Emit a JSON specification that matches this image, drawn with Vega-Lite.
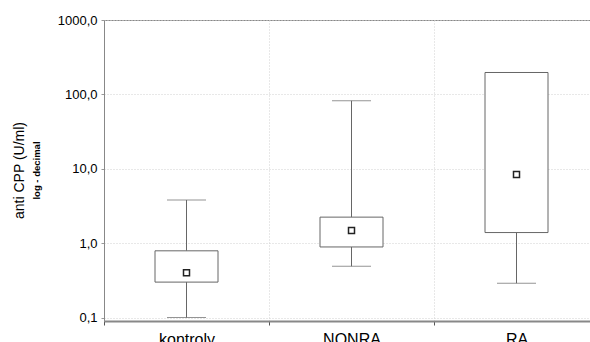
{
  "$schema": "https://vega.github.io/schema/vega-lite/v6.json",
  "autosize": "none",
  "padding": {"left": 104, "top": 20, "right": 0, "bottom": 21},
  "width": 495,
  "height": 301,
  "background": "white",
  "config": {
    "font": "Liberation Sans",
    "view": {"stroke": "#888888", "strokeWidth": 1}
  },
  "title": {
    "text": "anti CPP (U/ml)",
    "subtitle": "log - decimal",
    "orient": "left",
    "anchor": "middle",
    "font": "Liberation Sans",
    "fontSize": 14,
    "fontWeight": "normal",
    "color": "#000000",
    "subtitleFont": "Liberation Sans",
    "subtitleFontSize": 9.5,
    "subtitleFontWeight": "bold",
    "subtitleColor": "#000000",
    "subtitlePadding": 5,
    "offset": 16
  },
  "data": {
    "values": [
      {"group": "kontroly", "min": 0.1, "q1": 0.3, "median": 0.4, "q3": 0.79, "max": 3.8},
      {"group": "NONRA", "min": 0.49, "q1": 0.89, "median": 1.48, "q3": 2.24, "max": 82},
      {"group": "RA", "min": 0.29, "q1": 1.39, "median": 8.4, "q3": 197, "max": 197}
    ]
  },
  "encoding": {
    "x": {
      "field": "group",
      "type": "nominal",
      "sort": ["kontroly", "NONRA", "RA"],
      "scale": {"paddingInner": 0, "paddingOuter": 0},
      "axis": {
        "title": null,
        "labelAngle": 0,
        "labelFontSize": 16,
        "labelColor": "#000000",
        "labelPadding": 6,
        "tickBand": "extent",
        "tickSize": 4,
        "tickColor": "#555555",
        "domainColor": "#888888",
        "domainWidth": 2,
        "grid": true,
        "gridColor": "#d0d0d0",
        "gridDash": [1, 2]
      }
    }
  },
  "layer": [
    {
      "mark": {"type": "rule", "color": "#666666", "strokeWidth": 1},
      "encoding": {
        "y": {
          "field": "min",
          "type": "quantitative",
          "scale": {"type": "log", "domain": [0.09, 1000], "nice": false, "zero": false},
          "axis": {
            "title": null,
            "values": [0.1, 1, 10, 100, 1000],
            "labelExpr": "replace(format(datum.value, '.1f'), '.', ',')",
            "labelFontSize": 13,
            "labelColor": "#000000",
            "labelPadding": 4,
            "tickSize": 3,
            "tickColor": "#999999",
            "domainColor": "#888888",
            "domainWidth": 1,
            "grid": true,
            "gridColor": "#d0d0d0",
            "gridDash": [1, 2]
          }
        },
        "y2": {"field": "q1"}
      }
    },
    {
      "mark": {"type": "rule", "color": "#666666", "strokeWidth": 1},
      "encoding": {
        "y": {"field": "q3", "type": "quantitative"},
        "y2": {"field": "max"}
      }
    },
    {
      "mark": {"type": "tick", "color": "#666666", "size": 39, "thickness": 1, "orient": "horizontal"},
      "encoding": {"y": {"field": "min", "type": "quantitative"}}
    },
    {
      "mark": {"type": "tick", "color": "#666666", "size": 39, "thickness": 1, "orient": "horizontal"},
      "encoding": {"y": {"field": "max", "type": "quantitative"}}
    },
    {
      "mark": {"type": "bar", "width": 63, "fill": "white", "stroke": "#666666", "strokeWidth": 1},
      "encoding": {
        "y": {"field": "q1", "type": "quantitative"},
        "y2": {"field": "q3"}
      }
    },
    {
      "mark": {"type": "point", "shape": "square", "size": 36, "filled": false, "fill": "white", "stroke": "#222222", "strokeWidth": 1.5, "opacity": 1},
      "encoding": {"y": {"field": "median", "type": "quantitative"}}
    }
  ]
}
